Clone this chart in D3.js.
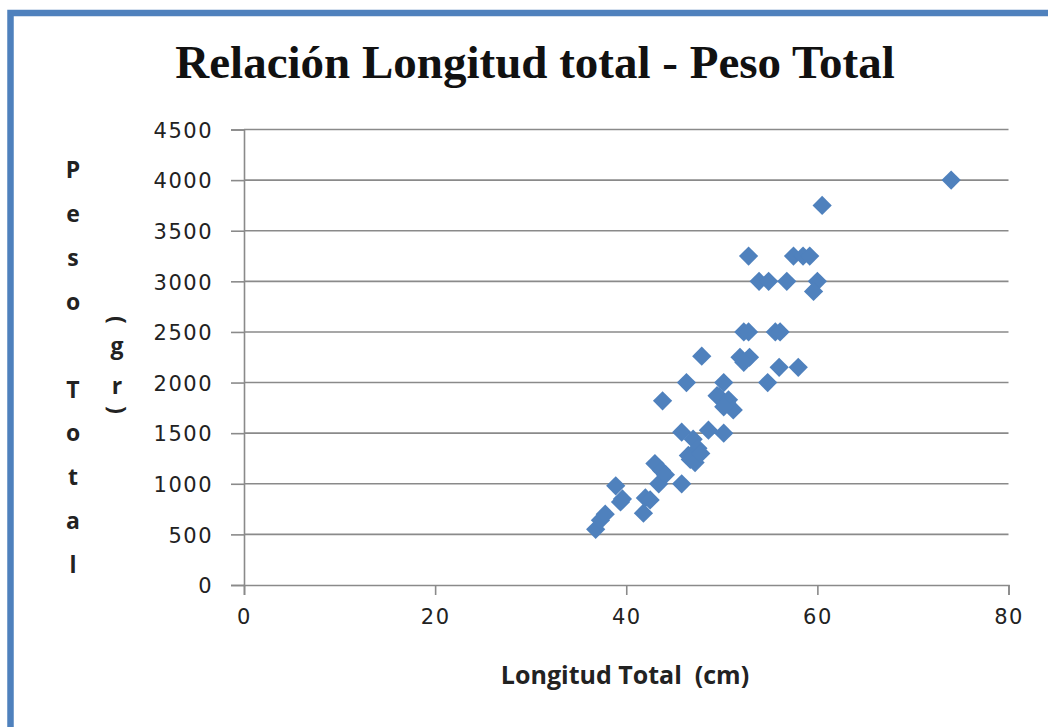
<!DOCTYPE html>
<html>
<head>
<meta charset="utf-8">
<script src="https://cdn.jsdelivr.net/npm/d3@7"></script>
<style>
  html, body { margin: 0; padding: 0; background: #fff; }
  svg { display: block; }
</style>
</head>
<body>
<div id="chart-area"></div>
<script>
const W = 1048, H = 727;

// longitud total (cm) / peso total (gr)
const longitud = [36.8, 37.3, 37.8, 38.9, 39.4, 39.6, 41.8, 42.0, 42.5, 43.0,
  43.4, 43.7, 44.1, 43.8, 45.8, 45.8, 46.3, 46.5, 46.7, 47.0,
  47.2, 47.5, 47.8, 48.6, 50.2, 50.2, 49.5, 49.7, 50.5, 50.7,
  51.2, 50.2, 47.9, 51.9, 52.9, 52.3, 52.3, 52.8, 55.6, 56.1,
  56.0, 58.0, 54.8, 53.9, 54.9, 56.8, 60.0, 59.6, 52.8, 57.5,
  58.5, 59.2, 60.5, 74.0];
const peso = [550, 640, 700, 980, 820, 850, 710, 860, 840, 1200,
  1000, 1130, 1090, 1820, 1000, 1510, 2000, 1280, 1240, 1440,
  1210, 1350, 1300, 1530, 1500, 2000, 1870, 1860, 1800, 1830,
  1730, 1760, 2260, 2250, 2250, 2200, 2500, 2500, 2500, 2500,
  2150, 2150, 2000, 3000, 3000, 3000, 3000, 2900, 3250, 3250,
  3250, 3250, 3750, 4000];

const xTicks = [0, 20, 40, 60, 80];
const yTicks = [0, 500, 1000, 1500, 2000, 2500, 3000, 3500, 4000, 4500];

const title = "Relación Longitud total - Peso Total";
const xTitle = "Longitud Total  (cm)";
const yTitleMain = "Peso Total";
const yTitleUnit = "(gr)";

const data = longitud.map((d, i) => ({x: d, y: peso[i]}));

const blue = "#4f81bd", grey = "#8a8a8a";

const svg = d3.select("#chart-area")
  .append("svg")
    .attr("width", W)
    .attr("height", H);

// frame of the chart object (only left and top edges are visible)
svg.append("rect")
  .attr("x", 10.5).attr("y", 13)
  .attr("width", W + 40).attr("height", H + 40)
  .attr("fill", "none")
  .attr("stroke", blue)
  .attr("stroke-width", 6.5);

const x = d3.scaleLinear().domain([0, 80]).range([244, 1008.5]);
const y = d3.scaleLinear().domain([0, 4500]).range([585, 129.5]);

//--------------------------- GRID
svg.append("g")
  .selectAll("line")
  .data(yTicks.filter(d => d > 0))
  .join("line")
    .attr("x1", x(0)).attr("x2", x(80))
    .attr("y1", d => y(d)).attr("y2", d => y(d))
    .attr("stroke", grey)
    .attr("stroke-width", 1.6);

//--------------------------- AXES
const yAxis = svg.append("g")
  .attr("transform", `translate(${x(0)},0)`)
  .call(d3.axisLeft(y).tickValues(yTicks).tickFormat(d3.format("d"))
    .tickSize(13).tickPadding(18));

const xAxis = svg.append("g")
  .attr("transform", `translate(0,${y(0)})`)
  .call(d3.axisBottom(x).tickValues(xTicks).tickFormat(d3.format("d"))
    .tickSize(10).tickPadding(14));

[xAxis, yAxis].forEach(a => {
  a.select(".domain").attr("stroke", grey).attr("stroke-width", 1.6);
  a.selectAll(".tick line").attr("stroke", grey).attr("stroke-width", 1.6);
  a.selectAll(".tick text")
    .attr("fill", "#222")
    .style("font-family", "'DejaVu Sans', sans-serif")
    .style("font-size", "21px")
    .style("letter-spacing", "1.5px");
});
yAxis.selectAll(".tick text").attr("dy", "0.37em");

//--------------------------- POINTS
svg.append("g")
  .selectAll("path")
  .data(data)
  .join("path")
    .attr("d", d3.symbol(d3.symbolSquare, 185))
    .attr("transform", d => `translate(${x(d.x)},${y(d.y)}) rotate(45)`)
    .attr("fill", blue);

//--------------------------- TEXTS
svg.append("text")
  .attr("x", 535).attr("y", 78)
  .attr("text-anchor", "middle")
  .style("font-family", "'Liberation Serif', 'DejaVu Serif', serif")
  .style("font-weight", "bold")
  .style("font-size", "47px")
  .attr("fill", "#111")
  .text(title);

svg.append("text")
  .attr("x", 625).attr("y", 684)
  .attr("text-anchor", "middle")
  .style("font-family", "'Open Sans', sans-serif")
  .style("font-weight", "bold")
  .style("font-size", "25px")
  .style("white-space", "pre")
  .attr("fill", "#222")
  .text(xTitle);

// stacked y title, one character per line
const yLab = svg.append("g")
  .style("font-family", "'Open Sans', sans-serif")
  .style("font-weight", "bold")
  .style("font-size", "23px")
  .attr("fill", "#222");

yLab.selectAll("text.main")
  .data(yTitleMain.split(""))
  .join("text")
    .attr("class", "main")
    .attr("x", 73)
    .attr("y", (d, i) => 178 + i * 43.9)
    .attr("text-anchor", "middle")
    .text(d => d);

const unitY = [320, 354, 394, 410];
yLab.selectAll("text.unit")
  .data(yTitleUnit.split(""))
  .join("text")
    .attr("class", "unit")
    .attr("text-anchor", "middle")
    .attr("dy", (d, i) => (i === 0 || i === 3) ? "0.35em" : 0)
    .attr("transform", (d, i) => (i === 0 || i === 3)
      ? `translate(117,${unitY[i]}) rotate(90)`
      : `translate(117,${unitY[i]})`)
    .text(d => d);
</script>
</body>
</html>
